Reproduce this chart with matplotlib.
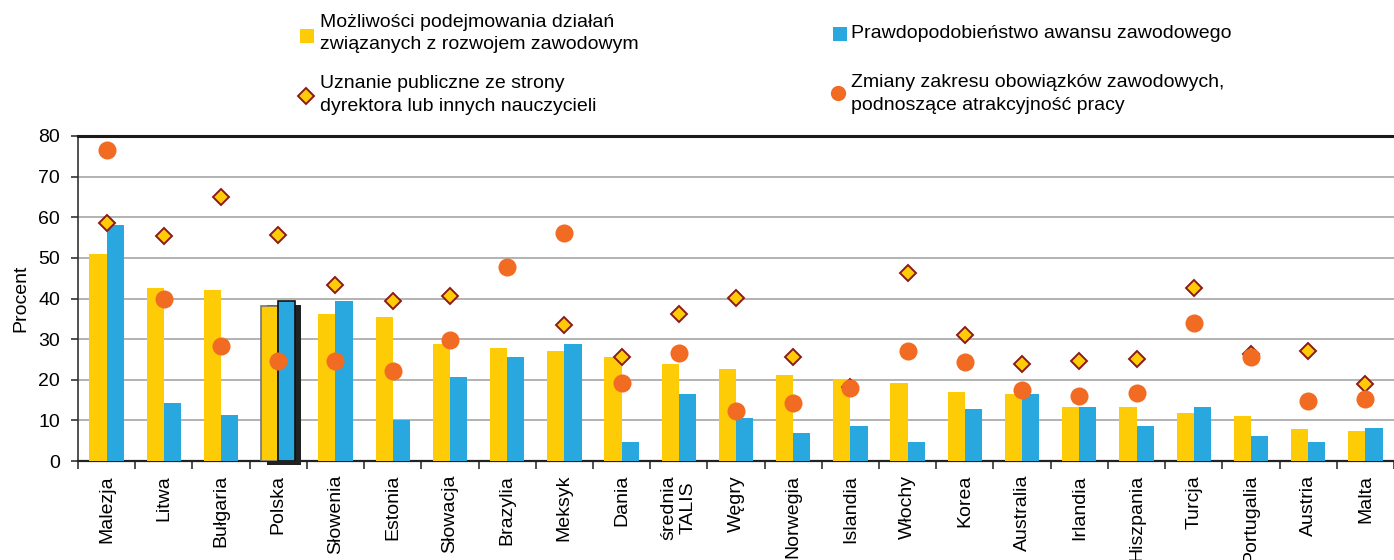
import matplotlib
matplotlib.use("Agg")
import matplotlib.pyplot as plt
import numpy as np
from matplotlib.patches import Rectangle
from matplotlib.lines import Line2D

plt.rcParams['font.family'] = ['Liberation Sans', 'DejaVu Sans']

countries = ["Malezja", "Litwa", "Bułgaria", "Polska", "Słowenia", "Estonia",
             "Słowacja", "Brazylia", "Meksyk", "Dania", "średnia\nTALIS", "Węgry",
             "Norwegia", "Islandia", "Włochy", "Korea", "Australia", "Irlandia",
             "Hiszpania", "Turcja", "Portugalia", "Austria", "Malta"]

rozwoj = [51.0, 42.6, 42.1, 38.2, 36.2, 35.4, 28.8, 27.8, 27.0, 25.5, 23.8, 22.6,
          21.1, 20.3, 19.1, 17.1, 16.6, 13.4, 13.2, 11.9, 11.2, 8.0, 7.5]
awans = [58.2, 14.4, 11.4, 39.4, 39.4, 10.2, 20.6, 25.5, 28.8, 4.8, 16.4, 10.7,
         6.8, 8.7, 4.8, 12.7, 16.6, 13.2, 8.7, 13.4, 6.2, 4.8, 8.2]
uznanie = [58.5, 55.4, 64.9, 55.7, 43.4, 39.5, 40.6, np.nan, 33.5, 25.5, 36.3, 40.2,
           25.5, 18.2, 46.2, 31.1, 23.9, 24.7, 25.1, 42.5, 26.4, 27.1, 19.0]
zmiany = [76.5, 39.8, 28.3, 24.7, 24.7, 22.1, 29.9, 47.8, 56.2, 19.1, 26.7, 12.3,
          14.3, 18.0, 27.1, 24.3, 17.5, 15.9, 16.7, 33.9, 25.5, 14.7, 15.2]

series_names = ["Możliwości podejmowania działań\nzwiązanych z rozwojem zawodowym",
                "Prawdopodobieństwo awansu zawodowego",
                "Uznanie publiczne ze strony\ndyrektora lub innych nauczycieli",
                "Zmiany zakresu obowiązków zawodowych,\npodnoszące atrakcyjność pracy"]

highlight = "Polska"

YELLOW = "#FECC07"
BLUE = "#29A8E0"
ORANGE = "#F26B22"
DIAMOND_EDGE = "#8B1A1A"

W, H = 1394, 560
fig = plt.figure(figsize=(W / 100, H / 100), dpi=100)
ax = fig.add_axes([78 / W, 1 - 461 / H, 1 - 78 / W, (461 - 136) / H])

x = np.arange(len(countries))
bw = 0.3
hi = countries.index(highlight)

edge_y = ["#777777" if i == hi else "none" for i in x]
edge_b = ["#111111" if i == hi else "none" for i in x]
ax.bar(x - bw / 2, rozwoj, bw, color=YELLOW, edgecolor=edge_y, linewidth=1.2, zorder=3)
ax.bar(x + bw / 2, awans, bw, color=BLUE, edgecolor=edge_b, linewidth=1.2, zorder=3)

# drop shadow behind the highlighted group
top = max(rozwoj[hi], awans[hi])
ax.add_patch(Rectangle((hi - bw + 0.105, -0.9), 2 * bw, top, facecolor="#222222",
                       edgecolor="none", zorder=2.5, clip_on=False))

ax.plot(x, uznanie, linestyle="none", marker="D", markersize=8.6, markerfacecolor=YELLOW,
        markeredgecolor=DIAMOND_EDGE, markeredgewidth=1.4, zorder=4)
ax.plot(x, zmiany, linestyle="none", marker="o", markersize=13, markerfacecolor=ORANGE,
        markeredgecolor="none", zorder=5)

ax.set_xlim(-0.5, len(countries) - 0.5)
ax.set_ylim(0, 80)
ax.set_yticks(np.arange(0, 81, 10))
ax.tick_params(axis="y", labelsize=14, length=5, width=1.2, color="#333333", pad=8)
ax.set_ylabel("Procent", fontsize=14, labelpad=6)

ax.set_xticks(x)
ax.set_xticklabels(countries, rotation=90, fontsize=14, va="top", ha="center",
                   multialignment="center")
ax.tick_params(axis="x", length=0, pad=10)
ax.set_xticks(np.arange(len(countries) + 1) - 0.5, minor=True)
ax.tick_params(axis="x", which="minor", length=6, width=1.2, color="#333333")

ax.yaxis.grid(True, color="#A6A6A6", linewidth=1.2, zorder=0)
ax.set_axisbelow(True)
ax.spines["right"].set_visible(False)
ax.spines["top"].set_linewidth(2.2)
ax.spines["top"].set_color("#1a1a1a")
ax.spines["left"].set_linewidth(1.2)
ax.spines["left"].set_color("#333333")
ax.spines["bottom"].set_linewidth(1.6)
ax.spines["bottom"].set_color("#222222")


def fx(px):
    return px / W


def fy(py):
    return 1 - py / H


# legend drawn in figure space
fig.patches.append(Rectangle((fx(300), fy(43)), 14 / W, 14 / H, transform=fig.transFigure,
                             facecolor=YELLOW, edgecolor="none"))
fig.patches.append(Rectangle((fx(833), fy(41)), 14 / W, 14 / H, transform=fig.transFigure,
                             facecolor=BLUE, edgecolor="none"))
fig.add_artist(Line2D([fx(306)], [fy(96)], transform=fig.transFigure, marker="D",
                      markersize=8, markerfacecolor=YELLOW, markeredgecolor=DIAMOND_EDGE,
                      markeredgewidth=1.4, linestyle="none"))
fig.add_artist(Line2D([fx(838)], [fy(93)], transform=fig.transFigure, marker="o",
                      markersize=11, markerfacecolor=ORANGE, markeredgecolor="none",
                      linestyle="none"))

lk = dict(fontsize=14, va="center", ha="left", linespacing=1.4)
fig.text(fx(320), fy(33.5), series_names[0], **lk)
fig.text(fx(851), fy(33), series_names[1], **lk)
fig.text(fx(320), fy(95), series_names[2], **lk)
fig.text(fx(851), fy(94), series_names[3], **lk)

fig.savefig("out.png", dpi=100)
